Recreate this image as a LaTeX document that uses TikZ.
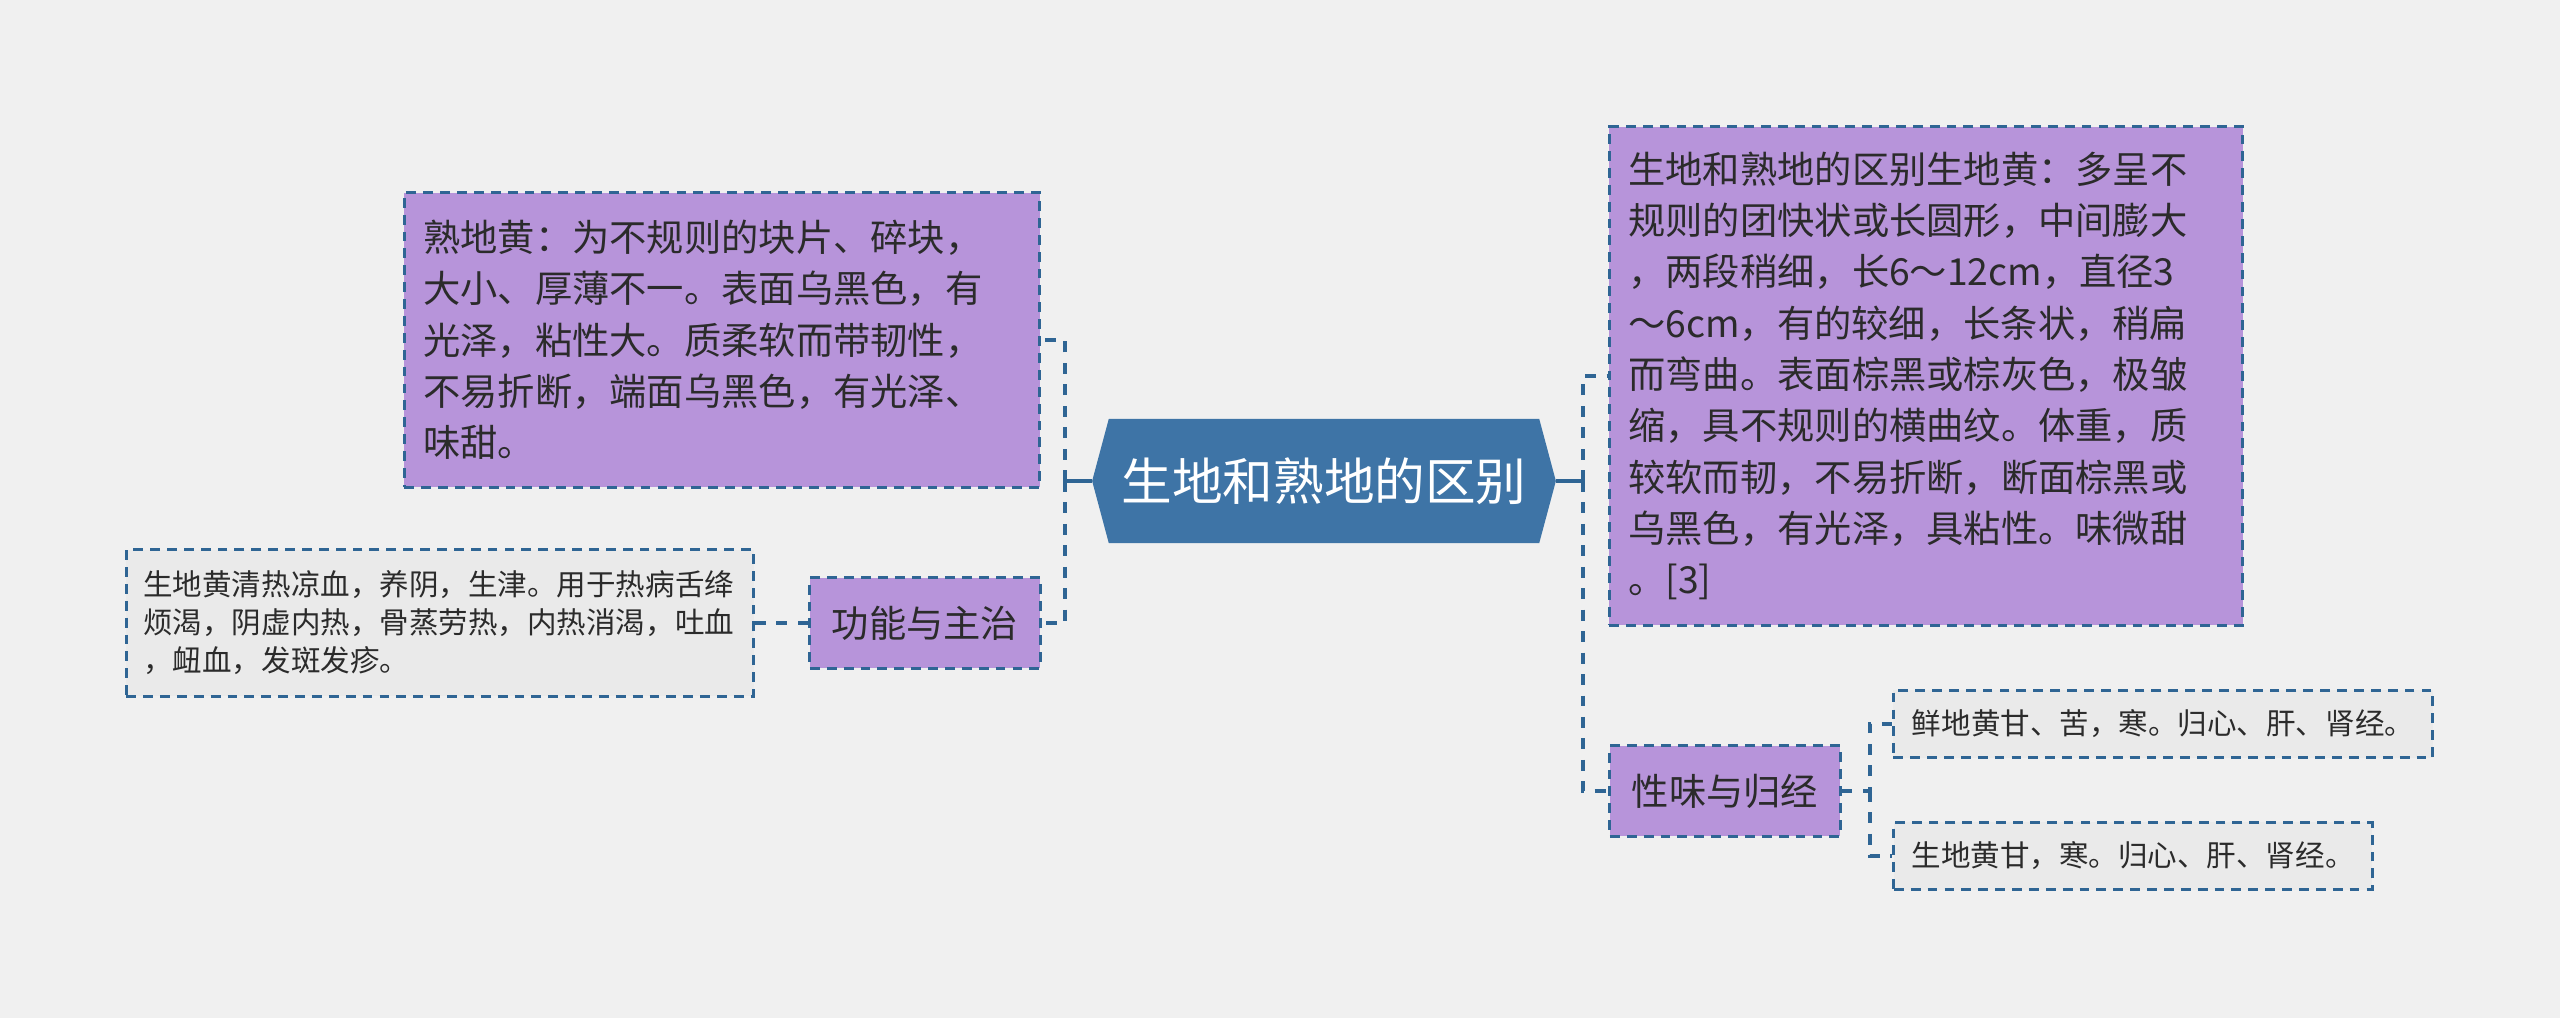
\documentclass[tikz,border=0pt]{standalone}
\usepackage{fontspec}
\setmainfont{Noto Sans CJK SC}
\usetikzlibrary{shapes.symbols}
\definecolor{paper}{HTML}{F0F0F0}
\definecolor{hubblue}{HTML}{3E74A6}
\definecolor{linkblue}{HTML}{2F6594}
\definecolor{lavender}{HTML}{B794DA}
\definecolor{leafgrey}{HTML}{EAEAEA}
\definecolor{ink}{HTML}{2B2B2B}
\tikzset{
  hub/.style={signal, signal to=west and east, signal pointer angle=150, fill=hubblue, draw=hubblue,
    text=white, minimum width=4.62cm, minimum height=1.23cm, inner sep=0pt,
    font=\fontsize{14.4pt}{17pt}\selectfont},
  topic/.style={rectangle, draw=linkblue, line width=0.85pt, dash pattern=on 2.8pt off 2pt,
    fill=lavender, text=ink, align=left, inner xsep=0.19cm, inner ysep=0pt,
    font=\fontsize{10.6pt}{14.6pt}\selectfont},
  note/.style={topic, fill=leafgrey, inner xsep=0.17cm, font=\fontsize{8.4pt}{10.8pt}\selectfont},
  link/.style={draw=linkblue, line width=1.1pt, dash pattern=on 3.1pt off 3pt},
  stem/.style={draw=linkblue, line width=1.1pt},
}
\begin{document}
\begin{tikzpicture}[x=0.01cm, y=-0.01cm]
\fill[paper] (0,0) rectangle (2560,1018);
\useasboundingbox (0,0) rectangle (2560,1018);
\node[hub] (hub) at (1324,481) {生地和熟地的区别};
\node[topic, minimum width=6.35cm, minimum height=2.94cm, text width=5.97cm] (shudi) at (722,340)
  {熟地黄：为不规则的块片、碎块，\\大小、厚薄不一。表面乌黑色，有\\光泽，粘性大。质柔软而带韧性，\\不易折断，端面乌黑色，有光泽、\\味甜。};
\node[topic, minimum width=2.30cm, minimum height=0.90cm] (gongneng) at (925,623) {功能与主治};
\node[note, minimum width=6.27cm, minimum height=1.46cm, text width=5.93cm] (gongnengtxt) at (440,623)
  {生地黄清热凉血，养阴，生津。用于热病舌绛\\烦渴，阴虚内热，骨蒸劳热，内热消渴，吐血\\，衄血，发斑发疹。};
\node[topic, minimum width=6.33cm, minimum height=4.98cm, text width=5.95cm] (shengdi) at (1926,376)
  {生地和熟地的区别生地黄：多呈不\\规则的团快状或长圆形，中间膨大\\，两段稍细，长6～12cm，直径3\\～6cm，有的较细，长条状，稍扁\\而弯曲。表面棕黑或棕灰色，极皱\\缩，具不规则的横曲纹。体重，质\\较软而韧，不易折断，断面棕黑或\\乌黑色，有光泽，具粘性。味微甜\\。[3]};
\node[topic, minimum width=2.30cm, minimum height=0.90cm] (xingwei) at (1725,791) {性味与归经};
\node[note, minimum width=5.39cm, minimum height=0.67cm] (xianshu) at (2163,724) {鲜地黄甘、苦，寒。归心、肝、肾经。};
\node[note, minimum width=4.78cm, minimum height=0.67cm] (shengshu) at (2133,856) {生地黄甘，寒。归心、肝、肾经。};
\draw[stem] (hub.west) -- ++(-27,0) coordinate (lj);
\draw[link] (lj) |- (shudi.east);
\draw[link] (lj) |- (gongneng.east);
\draw[link] (gongneng.west) -- (gongnengtxt.east);
\draw[stem] (hub.east) -- ++(27,0) coordinate (rj);
\draw[link] (rj) |- (shengdi.west);
\draw[link] (rj) |- (xingwei.west);
\draw[link] (xingwei.east) -- ++(28,0) coordinate (xj) |- (xianshu.west);
\draw[link] (xj) |- (shengshu.west);
\end{tikzpicture}
\end{document}
